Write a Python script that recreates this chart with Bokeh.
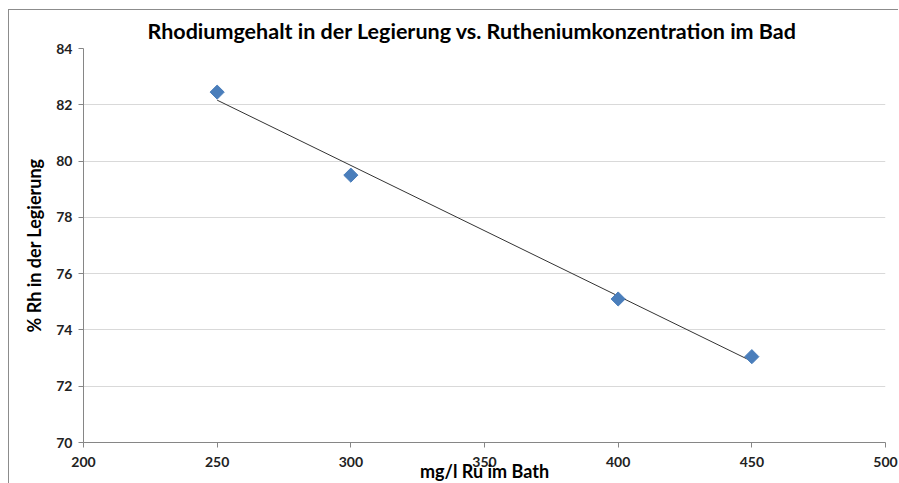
import numpy as np
from bokeh.plotting import figure
from bokeh.models import Range1d, FixedTicker
from bokeh.embed import file_html
from bokeh.resources import INLINE

# Data
ru_conc = [250, 300, 400, 450]
rh_pct = [82.45, 79.5, 75.1, 73.05]
x_ticks = [200, 250, 300, 350, 400, 450, 500]
y_ticks = [70, 72, 74, 76, 78, 80, 82, 84]

FONT = "Lato"

p = figure(width=890, height=474, output_backend="svg", toolbar_location=None,
           x_range=Range1d(200, 500), y_range=Range1d(70, 84),
           min_border_left=74, min_border_right=14, min_border_top=37, min_border_bottom=30)
p.title.text = "Rhodiumgehalt in der Legierung vs. Rutheniumkonzentration im Bad"
p.title.align = "left"
p.title.text_font = FONT
p.title.text_font_size = "21.5px"
p.title.text_font_style = "bold"
p.title.text_color = "#000000"
p.title.offset = 64

p.outline_line_color = None
p.styles = {"margin-left": "8px", "margin-top": "9px",
            "border-left": "1px solid #8c8c8c", "border-top": "1px solid #8c8c8c"}

for ax in (p.xaxis[0], p.yaxis[0]):
    ax.axis_line_color = "#868686"
    ax.major_tick_line_color = "#868686"
    ax.major_tick_out = 5
    ax.major_tick_in = 0
    ax.minor_tick_line_color = None
    ax.major_label_text_font = FONT
    ax.major_label_text_font_size = "14px"
    ax.major_label_text_font_style = "bold"
    ax.major_label_text_color = "#222222"
    ax.axis_label_text_font = FONT
    ax.axis_label_text_font_size = "18px"
    ax.axis_label_text_font_style = "bold"
    ax.axis_label_text_color = "#000000"

p.xaxis.ticker = FixedTicker(ticks=x_ticks)
p.yaxis.ticker = FixedTicker(ticks=y_ticks)
p.xaxis.axis_label = "mg/l Ru im Bath"
p.yaxis.axis_label = "% Rh in der Legierung"
p.xaxis.axis_label_standoff = -10
p.yaxis.axis_label_standoff = 8
p.xaxis.major_label_standoff = 9
p.yaxis.major_label_standoff = 6

p.xgrid.grid_line_color = None
p.ygrid.grid_line_color = "#d9d9d9"
p.ygrid.grid_line_width = 1

# linear trendline from data
m, b = np.polyfit(ru_conc, rh_pct, 1)
tx = [min(ru_conc), max(ru_conc)]
ty = [m * v + b for v in tx]
p.line(tx, ty, line_color="#333333", line_width=1)

p.scatter(ru_conc, rh_pct, marker="square", angle=np.pi / 4, size=10,
          fill_color="#4a7ebb", line_color="#4a7ebb")

open("out.html", "w").write(file_html(p, INLINE))
